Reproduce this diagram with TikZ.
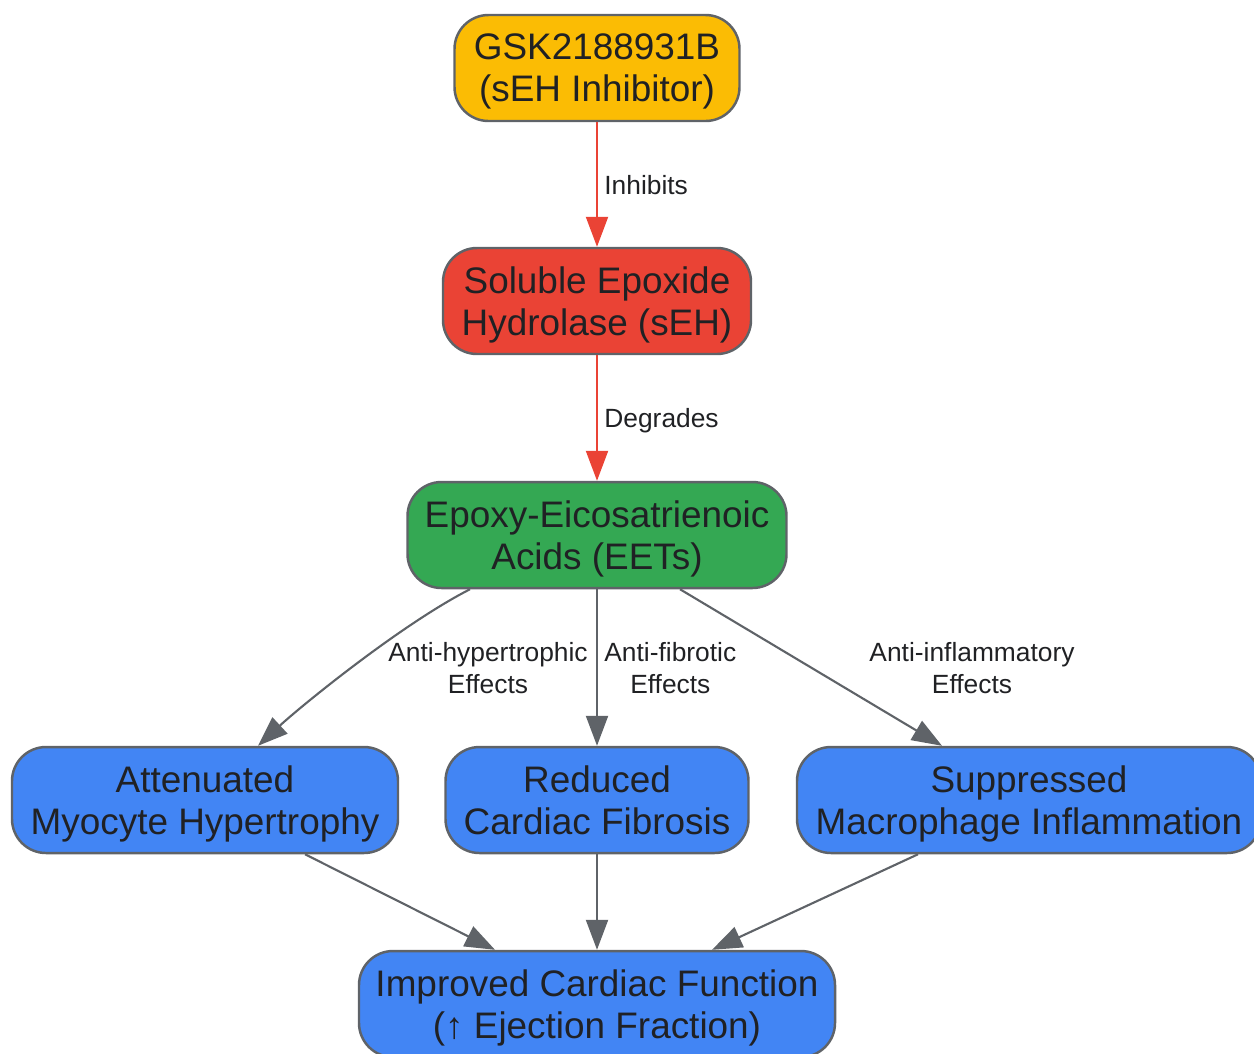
\documentclass[tikz,border=0pt]{standalone}
\usepackage{fontspec}
\setmainfont{Liberation Sans}
\usetikzlibrary{arrows.meta}
\definecolor{gskyellow}{HTML}{FBBC04}
\definecolor{sehred}{HTML}{EA4335}
\definecolor{eetgreen}{HTML}{34A853}
\definecolor{outblue}{HTML}{4285F4}
\definecolor{edgegray}{HTML}{5F6368}
\definecolor{inkdark}{HTML}{202124}
\tikzset{
    box/.style={draw=edgegray, line width=0.7pt, rounded corners=0.34cm, align=center, text=inkdark,
        font=\fontsize{10.5}{12}\selectfont, inner sep=2pt, text depth=0pt, minimum height=1.06cm},
    flow/.style={draw=edgegray, line width=0.6pt, -{Stealth[inset=0pt, length=3mm, width=2.2mm]}},
    inhib/.style={flow, draw=sehred},
    elabel/.style={text=inkdark, align=center, inner sep=1.8pt, text depth=0pt, font=\fontsize{7.5}{9.1}\selectfont}
}
\begin{document}
\begin{tikzpicture}
        \useasboundingbox (0, 0) rectangle (12.54, -10.53);
        \clip (0, 0) rectangle (12.54, -10.53);
        \node[box, fill=gskyellow, minimum width=2.85cm] (gsk) at (5.97, -0.68) {GSK2188931B\\(sEH Inhibitor)};
        \node[box, fill=sehred, minimum width=3.08cm] (seh) at (5.97, -3.01) {Soluble Epoxide\\Hydrolase (sEH)};
        \node[box, fill=eetgreen, minimum width=3.79cm] (eet) at (5.97, -5.35) {Epoxy-Eicosatrienoic\\Acids (EETs)};
        \node[box, fill=outblue, minimum width=3.86cm] (myo) at (2.05, -8.00) {Attenuated\\Myocyte Hypertrophy};
        \node[box, fill=outblue, minimum width=3.03cm] (fib) at (5.97, -8.00) {Reduced\\Cardiac Fibrosis};
        \node[box, fill=outblue, minimum width=4.64cm] (mac) at (10.29, -8.00) {Suppressed\\Macrophage Inflammation};
        \node[box, fill=outblue, minimum width=4.76cm] (func) at (5.97, -10.04) {Improved Cardiac Function\\(↑ Ejection Fraction)};
        \draw[inhib] (gsk) -- node[elabel, right] {Inhibits} (seh);
        \draw[inhib] (seh) -- node[elabel, right] {Degrades} (eet);
        \draw[flow] ([xshift=-1.27cm]eet.south) .. controls (4.00, -6.25) and (3.00, -7.07) .. ([xshift=0.53cm]myo.north);
        \draw[flow] (eet) -- node[elabel, right] {Anti-fibrotic\\Effects} (fib);
        \draw[flow] ([xshift=0.83cm]eet.south) -- ([xshift=-0.87cm]mac.north);
        \node[elabel] (lblhyp) at (4.88, -6.68) {Anti-hypertrophic\\Effects};
        \node[elabel] (lblinf) at (9.72, -6.68) {Anti-inflammatory\\Effects};
        \draw[flow] ([xshift=1.00cm]myo.south) -- ([xshift=-1.02cm]func.north);
        \draw[flow] (fib) -- (func);
        \draw[flow] ([xshift=-1.11cm]mac.south) -- ([xshift=1.15cm]func.north);
    \end{tikzpicture}
\end{document}
